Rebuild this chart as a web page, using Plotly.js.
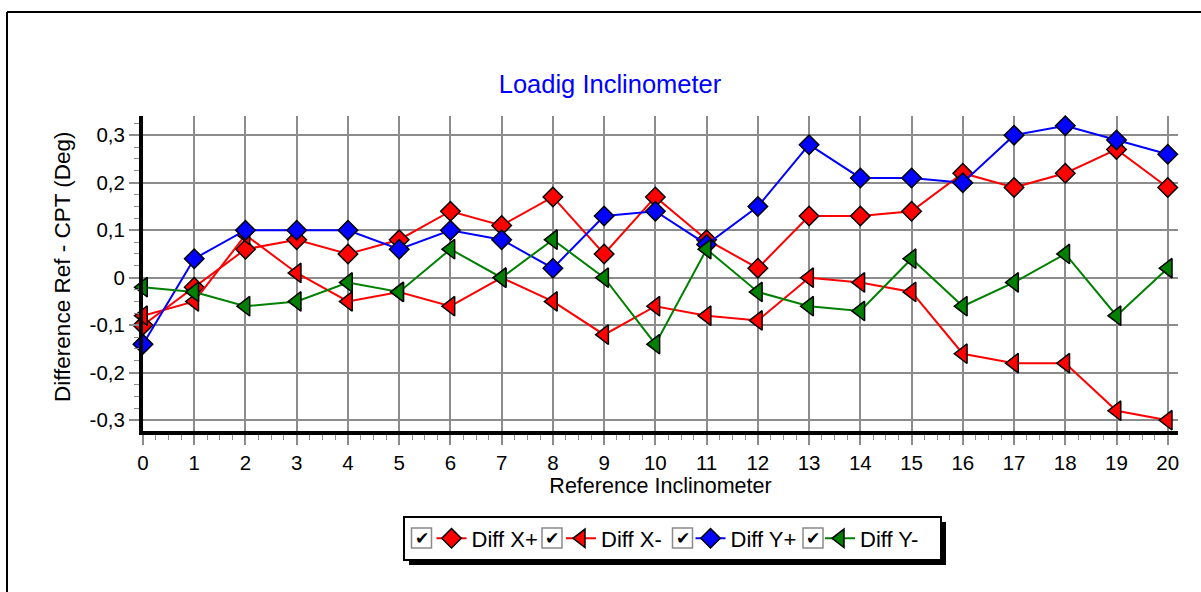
<!DOCTYPE html>
<html><head><meta charset="utf-8">
<script src="https://cdn.plot.ly/plotly-3.0.1.min.js"></script>
<style>html,body{margin:0;padding:0;background:#fff}#chart{width:1201px;height:592px}</style>
</head><body><div id="chart"></div>
<script>
// ---- data ----
const refIncl = [0,1,2,3,4,5,6,7,8,9,10,11,12,13,14,15,16,17,18,19,20];
const diffXPlus  = [-0.10,-0.02,0.06,0.08,0.05,0.08,0.14,0.11,0.17,0.05,0.17,0.08,0.02,0.13,0.13,0.14,0.22,0.19,0.22,0.27,0.19];
const diffXMinus = [-0.08,-0.05,0.09,0.01,-0.05,-0.03,-0.06,0.00,-0.05,-0.12,-0.06,-0.08,-0.09,0.00,-0.01,-0.03,-0.16,-0.18,-0.18,-0.28,-0.30];
const diffYPlus  = [-0.14,0.04,0.10,0.10,0.10,0.06,0.10,0.08,0.02,0.13,0.14,0.07,0.15,0.28,0.21,0.21,0.20,0.30,0.32,0.29,0.26];
const diffYMinus = [-0.02,-0.03,-0.06,-0.05,-0.01,-0.03,0.06,0.00,0.08,0.00,-0.14,0.06,-0.03,-0.06,-0.07,0.04,-0.06,-0.01,0.05,-0.08,0.02];
const seriesNames = ['Diff X+','Diff X-','Diff Y+','Diff Y-'];
const xTickVals = refIncl;
const xTickText = refIncl.map(String);
const yTickVals = [-0.3,-0.2,-0.1,0,0.1,0.2,0.3];
const yTickText = ['-0,3','-0,2','-0,1','0','0,1','0,2','0,3'];

// ---- layout helpers (pixel -> paper) ----
const L=143, R=1178, T=116, B=431;
const px = x => (x-L)/(R-L);
const py = y => (B-y)/(B-T);
const FONT = 'Liberation Sans, Arial, sans-serif';

function mk(name, y, color, symbol, size){
  return {x: refIncl, y: y, name: name, type:'scatter', mode:'lines+markers', cliponaxis:false,
    line:{color:color, width:2},
    marker:{symbol:symbol, size:size, color:color, line:{color:'#000', width:1.5}}};
}
const data = [
  mk(seriesNames[0], diffXPlus, '#ff0000', 'diamond', 15),
  mk(seriesNames[1], diffXMinus, '#ff0000', 'triangle-left', 17),
  mk(seriesNames[2], diffYPlus, '#0000ff', 'diamond', 15),
  mk(seriesNames[3], diffYMinus, '#008000', 'triangle-left', 17)
];

const shapes = [
  {type:'line', xref:'paper', yref:'paper', x0:px(7), x1:px(1201), y0:py(12), y1:py(12), line:{color:'#000', width:2}},
  {type:'line', xref:'paper', yref:'paper', x0:px(7), x1:px(7), y0:py(12), y1:py(592), line:{color:'#000', width:2}},
  {type:'rect', xref:'paper', yref:'paper', x0:px(409), x1:px(946), y0:py(522), y1:py(565), fillcolor:'#000', line:{width:0}, layer:'above'},
  {type:'rect', xref:'paper', yref:'paper', x0:px(404), x1:px(941), y0:py(517), y1:py(560), fillcolor:'#fff', line:{color:'#000', width:2}, layer:'above'}
];
const annotations = [
  {xref:'paper', yref:'paper', x:px(62), y:py(267), text:'Difference Ref - CPT (Deg)', textangle:-90, showarrow:false,
   xanchor:'center', yanchor:'middle', font:{family:FONT, size:22.5, color:'#000'}}
];
for(let k=0;k<4;k++){
  const cx = 411.5 + k*130.5;
  shapes.push({type:'rect', xref:'paper', yref:'paper', x0:px(cx), x1:px(cx+20), y0:py(528), y1:py(548), fillcolor:'#fff', line:{color:'#8a8a8a', width:1.5}, layer:'above'});
  annotations.push({xref:'paper', yref:'paper', x:px(cx+10), y:py(538), text:'✔', showarrow:false, xanchor:'center', yanchor:'middle', font:{family:'DejaVu Sans', size:17, color:'#000'}});
}

const axisCommon = {
  ticks:'outside', ticklen:10, tickwidth:2, tickcolor:'#8c8c8c',
  showline:true, linecolor:'#000', linewidth:4,
  showgrid:true, gridcolor:'#8c8c8c', gridwidth:2, zeroline:false,
  tickfont:{family:FONT, size:20.5, color:'#000'}, automargin:false, fixedrange:true
};

const layout = {
  width:1201, height:592,
  margin:{l:L, r:1201-R, t:T, b:592-B, pad:0},
  paper_bgcolor:'#fff', plot_bgcolor:'#fff',
  font:{family:FONT, color:'#000'},
  separators:',.',
  title:{text:'Loadig Inclinometer', font:{family:FONT, size:25.5, color:'#0000ff'},
    xref:'container', yref:'container', x:610/1201, xanchor:'center', y:1-84/592, yanchor:'middle'},
  xaxis:Object.assign({}, axisCommon, {
    range:[0,20.2], tickmode:'array', tickvals:xTickVals, ticktext:xTickText,
    minor:{tick0:0, dtick:0.25, ticks:'outside', ticklen:5, tickwidth:1, tickcolor:'#8c8c8c', showgrid:false},
    title:{text:'Reference Inclinometer', font:{family:FONT, size:21.5, color:'#000'}, standoff:4}
  }),
  yaxis:Object.assign({}, axisCommon, {
    range:[-0.3227,0.3404], tickmode:'array', tickvals:yTickVals, ticktext:yTickText,
    minor:{tick0:0, dtick:0.025, ticks:'outside', ticklen:5, tickwidth:1, tickcolor:'#8c8c8c', showgrid:false}
  }),
  showlegend:true,
  legend:{orientation:'h', x:px(431.5), xanchor:'left', y:py(538.5), yanchor:'middle',
    bgcolor:'rgba(0,0,0,0)', borderwidth:0, entrywidth:84.5, entrywidthmode:'pixels',
    font:{family:FONT, size:22, color:'#000'}, traceorder:'normal'},
  shapes:shapes, annotations:annotations
};
Plotly.newPlot('chart', data, layout, {displayModeBar:false, staticPlot:true});
</script></body></html>
